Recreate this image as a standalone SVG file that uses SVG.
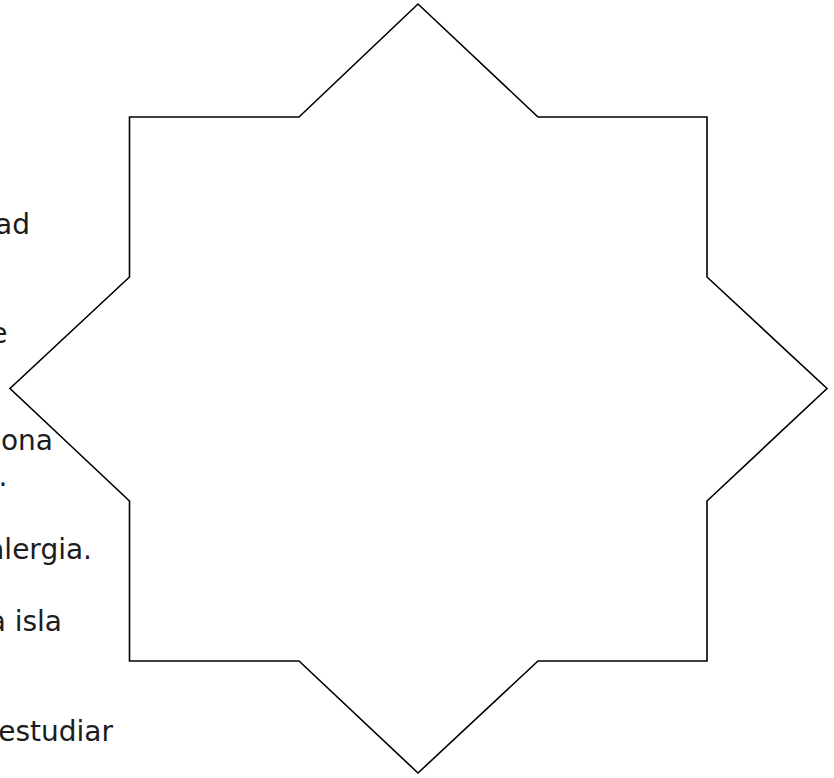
<svg xmlns="http://www.w3.org/2000/svg" width="834" height="778" viewBox="0 0 834 778">
  <style>
    .t { font-family: "Century Gothic", "URW Gothic", "DejaVu Sans", sans-serif; font-size: 28px; fill: #1c1c1c; text-anchor: end; }
    .star { fill: #ffffff; stroke: #000000; stroke-width: 1.6; stroke-linejoin: miter; }
  </style>
  <rect x="0" y="0" width="834" height="778" fill="#ffffff"/>
  <g id="text-behind">
    <text class="t" x="30" y="234">ad</text>
    <text class="t" x="7.5" y="343">e</text>
    <text class="t" x="53" y="450">ona</text>
    <text class="t" x="7.5" y="486">o.</text>
    <text class="t" x="92" y="559">alergia.</text>
    <text class="t" x="62" y="631">a isla</text>
    <text class="t" x="113" y="741">estudiar</text>
  </g>
  <g id="star">
    <polygon class="star" points="418,4 538,117 707,117 707,277 827,388.5 707,501 707,661 538,661 418,773 299,661 129.5,661 129.5,501 10,388.5 129.5,277 129.5,117 299,117"/>
  </g>
</svg>
